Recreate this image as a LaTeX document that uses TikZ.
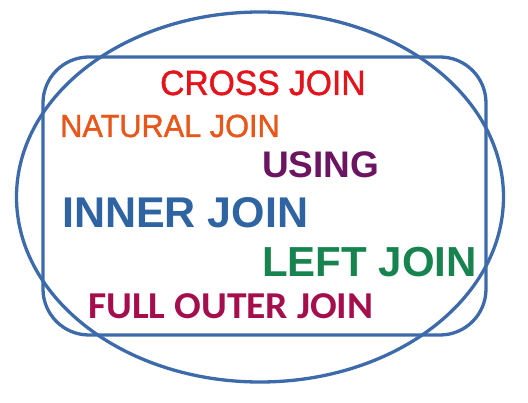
\documentclass[tikz,border=0pt]{standalone}
\usepackage{fontspec}
\setmainfont{Liberation Sans}
\newfontfamily\dinfont[FakeStretch=0.96,FakeBold=1.2]{Liberation Sans}
\newfontfamily\calfont[FakeStretch=1.04]{Carlito}
\usetikzlibrary{shapes.geometric}
\definecolor{setblue}{HTML}{3D6AAA}
\definecolor{crossred}{HTML}{E3141B}
\definecolor{natorange}{HTML}{E8561A}
\definecolor{usingpurple}{HTML}{6B1462}
\definecolor{innerblue}{HTML}{2F64A3}
\definecolor{leftgreen}{HTML}{17844F}
\definecolor{fullcrimson}{HTML}{A50E4C}
\tikzset{
  outline/.style={draw=setblue,line width=3.3pt,inner sep=0pt},
  lbl/.style={anchor=base west,inner sep=0pt}
}
\begin{document}
\begin{tikzpicture}[x=1pt,y=-1pt]
  \useasboundingbox (0,0) rectangle (528,403);
  \node[outline, ellipse, minimum width=487pt, minimum height=370pt] (outer) at (260,197) {};
  \node[outline, rectangle, rounded corners=46pt, minimum width=443pt, minimum height=278pt] (inner) at (264.5,196) {};

  \node[lbl, crossred, font=\dinfont\fontsize{35}{40}\selectfont] (cross) at (160,95) {CROSS JOIN};
  \node[lbl, natorange, font=\dinfont\fontsize{32}{37}\selectfont] (natural) at (60,137) {NATURAL JOIN};
  \node[lbl, usingpurple, font=\bfseries\fontsize{37}{42}\selectfont] (using) at (262,178) {USING};
  \node[lbl, innerblue, font=\bfseries\fontsize{43}{48}\selectfont] (innerjoin) at (62,228) {INNER JOIN};
  \node[lbl, leftgreen, font=\bfseries\fontsize{42}{46}\selectfont] (leftjoin) at (262,277) {LEFT JOIN};
  \node[lbl, fullcrimson, font=\calfont\bfseries\fontsize{38}{43}\selectfont] (fullouter) at (88,319) {FULL OUTER JOIN};
\end{tikzpicture}
\end{document}
